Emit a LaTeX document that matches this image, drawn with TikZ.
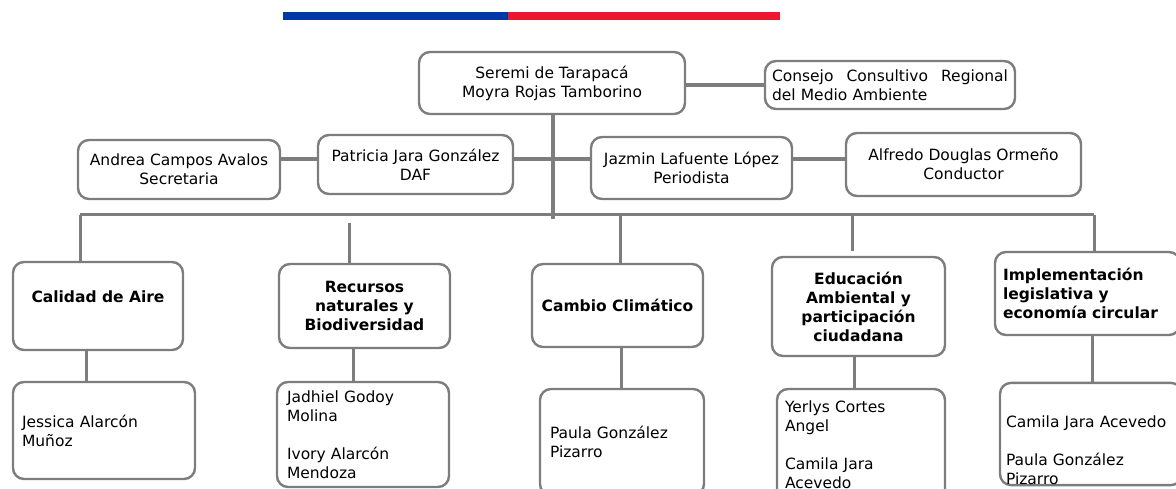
\documentclass[tikz,border=0pt]{standalone}
\usepackage{fontspec}
\setmainfont{DejaVu Sans}
\definecolor{gris}{RGB}{125,125,125}
\definecolor{azulchile}{RGB}{0,57,166}
\definecolor{rojochile}{RGB}{237,22,48}
\begin{document}
\begin{tikzpicture}[x=1pt,y=-1pt]
	% Estilos de las cajas y lineas
	\tikzstyle{caja}		= [rectangle, draw=gris, line width=2.4pt, rounded corners=11pt, fill=white, inner sep=0pt, font=\fontsize{15.5}{19}\selectfont]
	\tikzstyle{area}		= [caja, font=\fontsize{15.5}{19}\selectfont\bfseries]
	\tikzstyle{linea}		= [draw=gris, line width=3pt]
	\tikzstyle{lineagruesa}	= [draw=gris, line width=4pt]

	\useasboundingbox (0,0) rectangle (1176,489);

	% Franja de colores arriba
	\fill[azulchile] (283,12) rectangle (508,20);
	\fill[rojochile] (508,12) rectangle (780,20);

	% Seremi y consejo
	\node[caja, minimum width=266pt, minimum height=62pt, align=center]	(seremi)	at (552,83)	{Seremi de Tarapacá\\Moyra Rojas Tamborino};
	\node[caja, minimum width=250pt, minimum height=48pt, text width=236pt, align=left]	(consejo)	at (890,85)	{Consejo\hfill Consultivo\hfill Regional\\del Medio Ambiente};

	% Fila de apoyo
	\node[caja, minimum width=202pt, minimum height=59pt, align=center]	(andrea)	at (179,169.5)	{Andrea Campos Avalos\\Secretaria};
	\node[caja, minimum width=195pt, minimum height=59pt, align=center]	(patricia)	at (415.5,164.5)	{Patricia Jara González\\DAF};
	\node[caja, minimum width=201pt, minimum height=62pt, align=center]	(jazmin)	at (691.5,168)	{Jazmin Lafuente López\\Periodista};
	\node[caja, minimum width=235pt, minimum height=63pt, align=center]	(alfredo)	at (963.5,164.5)	{Alfredo Douglas Ormeño\\Conductor};

	% Areas
	\node[area, minimum width=170pt, minimum height=88pt, align=center]	(calidad)	at (98,306)		{Calidad de Aire\\\mbox{}};
	\node[area, minimum width=171pt, minimum height=84pt, align=center]	(recursos)	at (364.5,306)	{Recursos\\naturales y\\Biodiversidad};
	\node[area, minimum width=171pt, minimum height=83pt, align=center]	(cambio)	at (617.5,305.5)	{Cambio Climático};
	\node[area, minimum width=173pt, minimum height=99pt, align=center]	(educacion)	at (858.5,306.5)	{Educación\\Ambiental y\\participación\\ciudadana};
	\node[area, minimum width=185pt, minimum height=83pt, text width=169pt, align=left]	(implementacion)	at (1087.5,293.5)	{Implementación\\legislativa y\\economía circular};

	% Profesionales
	\node[caja, minimum width=182pt, minimum height=97pt, text width=164pt, align=left]	(jessica)	at (104,430.5)	{Jessica Alarcón\\Muñoz};
	\node[caja, minimum width=172pt, minimum height=105pt, text width=152pt, align=left]	(jadhiel)	at (363,434.5)	{Jadhiel Godoy\\Molina\\[19pt]Ivory Alarcón\\Mendoza};
	\node[caja, minimum width=164pt, minimum height=106pt, text width=144pt, align=left]	(paula)		at (622,442)	{Paula González\\Pizarro};
	\node[caja, minimum width=168pt, minimum height=112pt, text width=152pt, align=left]	(yerlys)	at (861,445)	{Yerlys Cortes\\Angel\\[19pt]Camila Jara\\Acevedo};
	\node[caja, minimum width=182pt, minimum height=102pt, text width=170pt, text height=45pt, align=left]	(camila)	at (1091,434)	{Camila Jara Acevedo\\[19pt]Paula González\\Pizarro};

	% Lineas de la parte de arriba
	\coordinate (tronco_fin)	at (553,219);
	\coordinate (fila_apoyo)	at (0,159);
	\draw[lineagruesa] (seremi.east |- consejo.west) -- (consejo.west);
	\draw[lineagruesa] (tronco_fin |- seremi.south) -- (tronco_fin);
	\draw[lineagruesa] (andrea.east |- fila_apoyo) -- (patricia.west |- fila_apoyo);
	\draw[lineagruesa] (patricia.east |- fila_apoyo) -- (jazmin.west |- fila_apoyo);
	\draw[lineagruesa] (jazmin.east |- fila_apoyo) -- (alfredo.west |- fila_apoyo);

	% Barra horizontal y bajadas a las areas
	\coordinate (bus_izq)			at (80,215);
	\coordinate (bus_der)			at (1094,215);
	\coordinate (caida_recursos)	at (349,223);
	\coordinate (caida_cambio)		at (620,215);
	\coordinate (caida_educacion)	at (852,251);
	\draw[linea] (bus_izq) -- (bus_der);
	\draw[linea] (bus_izq) -- (bus_izq |- calidad.north);
	\draw[linea] (caida_recursos) -- (caida_recursos |- recursos.north);
	\draw[linea] (caida_cambio) -- (caida_cambio |- cambio.north);
	\draw[linea] (caida_educacion |- bus_izq) -- (caida_educacion);
	\draw[linea] (bus_der) -- (bus_der |- implementacion.north);

	% Bajadas de areas a profesionales
	\foreach \a/\b/\x in {calidad/jessica/86, recursos/jadhiel/353, cambio/paula/621, educacion/yerlys/854, implementacion/camila/1092}
		\draw[linea] (\a.south -| \x,0) -- (\b.north -| \x,0);

\end{tikzpicture}
\end{document}
